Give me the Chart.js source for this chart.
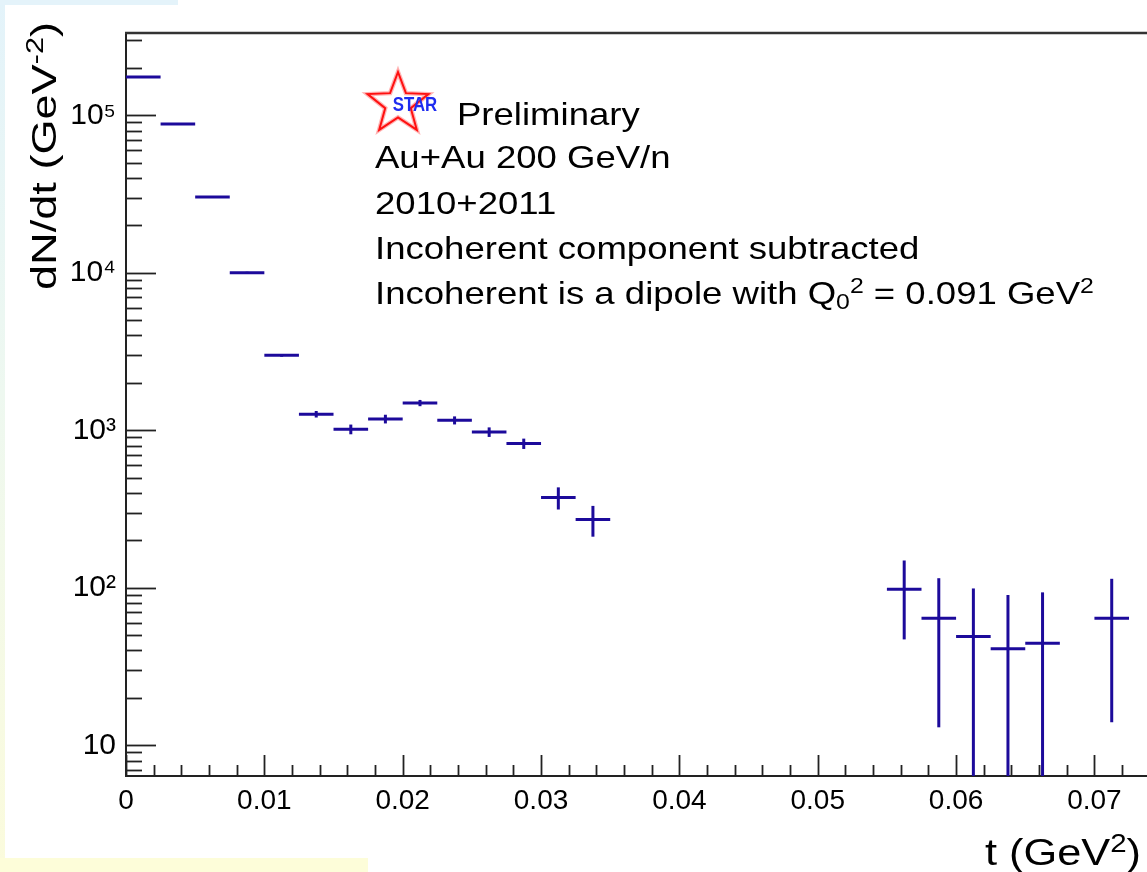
<!DOCTYPE html>
<html><head><meta charset="utf-8">
<script src="https://cdn.jsdelivr.net/npm/chart.js@4.4.1/dist/chart.umd.min.js"></script>
<style>
html,body{margin:0;padding:0;background:#fff;}
#wrap{position:relative;width:1147px;height:872px;overflow:hidden;background:#fff;}
.strip{position:absolute;}
canvas{position:absolute;left:0;top:0;}
</style></head><body>
<div id="wrap">
<div class="strip" style="left:0;top:0;width:5px;height:872px;background:linear-gradient(#e3f3fa,#eef8f0 45%,#fbfbdc);"></div>
<div class="strip" style="left:0;top:0;width:178px;height:5px;background:#e4f3fa;"></div>
<div class="strip" style="left:0;top:858px;width:368px;height:14px;background:#fdfdd9;"></div>
<canvas id="c" width="1147" height="872"></canvas>
</div>
<script>
// ---- data ----
const binCenters = [0.00125, 0.00375, 0.00625, 0.00875, 0.01125, 0.01375, 0.01625, 0.01875, 0.02125, 0.02375,
                    0.02625, 0.02875, 0.03125, 0.03375, 0.05625, 0.05875, 0.06125, 0.06375, 0.06625, 0.07125];
const binHalfWidth = 0.00125;
const dNdt    = [175000, 88000, 30300, 10000, 2990, 1265, 1015, 1180, 1490, 1157,
                 975, 823, 374, 271, 98, 64, 49, 41, 44.5, 64];
const dNdtErr = [1500, 900, 400, 150, 60, 60, 72, 75, 68, 68,
                 68, 62, 60, 60, 51, 51, 50, 49, 49, 50];

const xMajorTicks  = [0, 0.01, 0.02, 0.03, 0.04, 0.05, 0.06, 0.07];
const xTickLabels  = ['0', '0.01', '0.02', '0.03', '0.04', '0.05', '0.06', '0.07'];
const yMajorTicks  = [10, 100, 1000, 10000, 100000];
const yTickLabels  = ['10', '10\u00B2', '10\u00B3', '10\u2074', '10\u2075'];

const X_MIN = 0, X_MAX = 0.0738, Y_MIN = 6.38, Y_MAX = 333000;

const yTitle = [{t:'dN/dt (GeV'},{t:'-2',m:'sup'},{t:')'}];
const xTitle = [{t:'t (GeV'},{t:'2',m:'sup'},{t:')'}];
const noteLines = [
  [{t:'Preliminary'}],
  [{t:'Au+Au 200 GeV/n'}],
  [{t:'2010+2011'}],
  [{t:'Incoherent component subtracted'}],
  [{t:'Incoherent is a dipole with Q'},{t:'0',m:'sub'},{t:'2',m:'sup'},{t:' = 0.091 GeV'},{t:'2',m:'sup'}]
];

const BLUE = 'rgb(28,10,155)';
const FONT = '"Liberation Sans", Arial, Helvetica, sans-serif';

// minor tick sets
const xAllTicks = [];
for (let k = 0; k <= 36; k++) xAllTicks.push(+(k * 0.002).toFixed(4));
const yAllTicks = [];
for (let d = 0; d <= 5; d++) for (let m = 1; m <= 9; m++) {
  const v = m * Math.pow(10, d);
  if (v >= Y_MIN && v <= Y_MAX) yAllTicks.push(v);
}

// ---- rich text helpers ----
function segFont(m, size){ const s = (m === 'sup' || m === 'sub') ? size * 0.68 : size; return s + 'px ' + FONT; }
function richWidth(ctx, segs, size){ let w = 0; for (const g of segs){ ctx.font = segFont(g.m, size); w += ctx.measureText(g.t).width; } return w; }
function drawRich(ctx, segs, size){
  let x = 0;
  for (const g of segs){
    ctx.font = segFont(g.m, size);
    const dy = g.m === 'sup' ? -0.36 * size : (g.m === 'sub' ? 0.16 * size : 0);
    ctx.fillText(g.t, x, dy);
    x += ctx.measureText(g.t).width;
  }
}
function placeRich(ctx, segs, o){
  ctx.save();
  ctx.translate(o.x, o.y);
  if (o.angle) ctx.rotate(o.angle);
  const w = richWidth(ctx, segs, o.size);
  const hs = o.length ? o.length / w : (o.hs || 1);
  ctx.scale(hs, 1);
  if (o.align === 'right') ctx.translate(-w, 0);
  ctx.textBaseline = 'alphabetic';
  ctx.textAlign = 'left';
  ctx.fillStyle = '#000';
  drawRich(ctx, segs, o.size);
  ctx.restore();
}

function drawStarLogo(ctx, cx, cy, R){
  ctx.save();
  ctx.beginPath();
  for (let i = 0; i < 10; i++){
    const r = i % 2 === 0 ? R : R * 0.42;
    const a = -Math.PI / 2 + i * Math.PI / 5;
    const px = cx + r * Math.cos(a), py = cy + r * Math.sin(a);
    if (i === 0) ctx.moveTo(px, py); else ctx.lineTo(px, py);
  }
  ctx.closePath();
  ctx.lineWidth = 4.5; ctx.strokeStyle = '#ffb4b4'; ctx.stroke();
  ctx.lineWidth = 2; ctx.strokeStyle = '#ff1010'; ctx.stroke();
  ctx.translate(cx + 17, cy + 7);
  ctx.scale(0.8, 1);
  ctx.font = 'bold 21px ' + FONT;
  ctx.textAlign = 'center';
  ctx.textBaseline = 'alphabetic';
  ctx.fillStyle = '#1e2cf0';
  ctx.fillText('STAR', 0, 0);
  ctx.restore();
}

// ---- plugins ----
const histPlugin = {
  id: 'hist',
  afterDatasetsDraw(chart){
    const {ctx, chartArea: ca, scales: {x, y}} = chart;
    ctx.save();
    ctx.beginPath(); ctx.rect(ca.left, ca.top, ca.right - ca.left, ca.bottom - ca.top); ctx.clip();
    ctx.strokeStyle = BLUE; ctx.lineWidth = 3; ctx.lineCap = 'butt';
    binCenters.forEach((c, i) => {
      const v = dNdt[i], e = dNdtErr[i];
      const xl = x.getPixelForValue(c - binHalfWidth), xr = x.getPixelForValue(c + binHalfWidth);
      const xc = x.getPixelForValue(c), yp = y.getPixelForValue(v);
      ctx.beginPath(); ctx.moveTo(xl, yp); ctx.lineTo(xr, yp); ctx.stroke();
      const yt = y.getPixelForValue(v + e);
      const yb = (v - e) > Y_MIN ? y.getPixelForValue(v - e) : ca.bottom + 5;
      ctx.beginPath(); ctx.moveTo(xc, yt); ctx.lineTo(xc, yb); ctx.stroke();
    });
    ctx.restore();
  },
  afterDraw(chart){
    const {ctx, chartArea: ca, scales: {x, y}} = chart;
    ctx.save();
    // top frame
    ctx.strokeStyle = '#333'; ctx.lineWidth = 2.5;
    ctx.beginPath(); ctx.moveTo(ca.left - 1, ca.top); ctx.lineTo(ca.right + 2, ca.top); ctx.stroke();
    // inward ticks
    ctx.strokeStyle = '#222'; ctx.lineWidth = 1.8;
    y.ticks.forEach(t => {
      const py = Math.round(y.getPixelForValue(t.value)) + 0.5;
      const major = yMajorTicks.includes(t.value);
      ctx.beginPath(); ctx.moveTo(ca.left, py); ctx.lineTo(ca.left + (major ? 30 : 16), py); ctx.stroke();
    });
    x.ticks.forEach(t => {
      const px = Math.round(x.getPixelForValue(t.value)) + 0.5;
      const major = xMajorTicks.some(m => Math.abs(m - t.value) < 1e-7);
      ctx.beginPath(); ctx.moveTo(px, ca.bottom); ctx.lineTo(px, ca.bottom - (major ? 21 : 11)); ctx.stroke();
    });
    ctx.restore();
    // titles
    placeRich(ctx, yTitle, {x: 56, y: 290, size: 35, angle: -Math.PI / 2, length: 268});
    placeRich(ctx, xTitle, {x: 1141, y: 865, size: 37, align: 'right', length: 156});
    // annotation block
    drawStarLogo(ctx, 398, 104, 32);
    const baselines = [125, 168, 214, 259, 304];
    noteLines.forEach((segs, i) => {
      placeRich(ctx, segs, {x: i === 0 ? 457 : 375, y: baselines[i], size: 31.5, hs: 1.16});
    });
  }
};

new Chart(document.getElementById('c'), {
  type: 'scatter',
  data: {
    datasets: [{
      label: 'dN/dt',
      data: binCenters.map((c, i) => ({x: c, y: dNdt[i]})),
      showLine: false, pointRadius: 0, borderColor: BLUE, backgroundColor: BLUE
    }]
  },
  options: {
    responsive: false, animation: false,
    layout: {padding: {top: 33, left: 0, right: 0, bottom: 0}},
    plugins: {legend: {display: false}, tooltip: {enabled: false}, title: {display: false}},
    scales: {
      x: {
        type: 'linear', min: X_MIN, max: X_MAX,
        afterBuildTicks: s => { s.ticks = xAllTicks.map(v => ({value: v})); },
        afterFit: s => { s.height = 96; },
        grid: {display: false, drawTicks: false},
        border: {display: true, color: '#222', width: 2},
        ticks: {
          autoSkip: false, maxRotation: 0, minRotation: 0, padding: 8, color: '#000',
          font: {family: FONT, size: 28},
          callback: v => { const k = xMajorTicks.findIndex(m => Math.abs(m - v) < 1e-7); return k >= 0 ? xTickLabels[k] : ''; }
        }
      },
      y: {
        type: 'logarithmic', min: Y_MIN, max: Y_MAX,
        afterBuildTicks: s => { s.ticks = yAllTicks.map(v => ({value: v})); },
        afterFit: s => { s.width = 126; },
        grid: {display: false, drawTicks: false},
        border: {display: true, color: '#222', width: 2},
        ticks: {
          autoSkip: false, padding: 10, color: '#000',
          font: {family: FONT, size: 30},
          callback: v => { const k = yMajorTicks.indexOf(v); return k >= 0 ? yTickLabels[k] : ''; }
        }
      }
    }
  },
  plugins: [histPlugin]
});
</script>
</body></html>
